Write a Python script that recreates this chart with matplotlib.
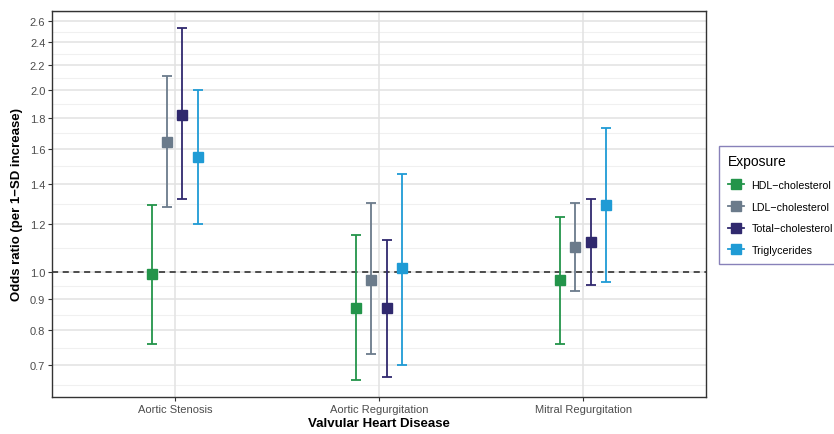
import matplotlib
matplotlib.use('Agg')
import numpy as np
import matplotlib.pyplot as plt
from matplotlib.lines import Line2D
from matplotlib.ticker import FixedLocator, NullFormatter

plt.rcParams['font.family'] = ['Liberation Sans', 'DejaVu Sans']

# DATA

diseases  = ['Aortic Stenosis', 'Aortic Regurgitation', 'Mitral Regurgitation']
exposures = ['HDL\u2212cholesterol', 'LDL\u2212cholesterol', 'Total\u2212cholesterol', 'Triglycerides']
colors    = ['#23944a', '#6b7b8b', '#30296e', '#1f9bd5']

or_hdl   = [0.991, 0.871, 0.970]
lo_hdl   = [0.760, 0.661, 0.760]
hi_hdl   = [1.290, 1.150, 1.231]

or_ldl   = [1.642, 0.969, 1.100]
lo_ldl   = [1.280, 0.730, 0.930]
hi_ldl   = [2.110, 1.300, 1.300]

or_tc    = [1.820, 0.871, 1.121]
lo_tc    = [1.320, 0.669, 0.952]
hi_tc    = [2.531, 1.130, 1.320]

or_tg    = [1.549, 1.013, 1.291]
lo_tg    = [1.200, 0.700, 0.960]
hi_tg    = [2.000, 1.452, 1.730]

y_ticks  = [0.7, 0.8, 0.9, 1.0, 1.2, 1.4, 1.6, 1.8, 2.0, 2.2, 2.4, 2.6]

series = [
    (or_hdl, lo_hdl, hi_hdl),
    (or_ldl, lo_ldl, hi_ldl),
    (or_tc,  lo_tc,  hi_tc),
    (or_tg,  lo_tg,  hi_tg),
]

# FIGURE

fig = plt.figure(figsize=(8.34, 4.35), dpi=100)
ax = fig.add_axes([0.0627, 0.085, 0.7833, 0.888])

x = np.arange(1, len(diseases) + 1)
offsets = [-0.1125, -0.0375, 0.0375, 0.1125]

ax.set_yscale('log')
ax.set_ylim(0.62, 2.707)
ax.set_xlim(0.4, 3.6)

# grid
ext = [0.6] + y_ticks + [2.8]
minors = [np.sqrt(a * b) for a, b in zip(ext[:-1], ext[1:])]
for m in minors:
    ax.axhline(m, color='#f0f0f0', lw=0.8, zorder=0)
for t in y_ticks:
    ax.axhline(t, color='#e2e2e2', lw=1.1, zorder=0)
for xi in x:
    ax.axvline(xi, color='#e2e2e2', lw=1.1, zorder=0)

ax.axhline(1.0, color='#222222', lw=1.1, ls=(0, (4, 3)), zorder=1)

handles = []
for (ors, los, his), off, col, name in zip(series, offsets, colors, exposures):
    ors = np.array(ors); los = np.array(los); his = np.array(his)
    ax.errorbar(x + off, ors, yerr=[ors - los, his - ors], fmt='s', color=col,
                ecolor=col, elinewidth=1.3, capsize=3.5, capthick=1.3,
                markersize=7.5, zorder=3)
    handles.append(Line2D([], [], color=col, lw=1.3, marker='s', markersize=6.5, label=name))

ax.yaxis.set_major_locator(FixedLocator(y_ticks))
ax.yaxis.set_minor_locator(FixedLocator([]))
ax.yaxis.set_minor_formatter(NullFormatter())
ax.set_yticklabels([f'{t:.1f}' for t in y_ticks])
ax.set_xticks(x)
ax.set_xticklabels(diseases)
ax.tick_params(axis='both', labelsize=8, colors='#333333', length=3, width=0.8,
               labelcolor='#4d4d4d', pad=2)

for s in ax.spines.values():
    s.set_color('#333333')
    s.set_linewidth(1.0)

ax.set_xlabel('Valvular Heart Disease', fontsize=9.5, fontweight='bold', labelpad=2)
ax.set_ylabel('Odds ratio (per 1\u2212SD increase)', fontsize=9.5, fontweight='bold', labelpad=5)

leg = ax.legend(handles=handles, title='Exposure', loc='upper left',
                bbox_to_anchor=(719 / 834, 1 - 146.5 / 435), bbox_transform=fig.transFigure,
                borderaxespad=0, fontsize=7.7, title_fontsize=10,
                frameon=True, fancybox=False, handlelength=1.5, handletextpad=0.75,
                borderpad=0.8, labelspacing=1.1, alignment='left')
leg.get_frame().set_edgecolor('#6a62a8')
leg.get_frame().set_linewidth(1.0)

fig.savefig('out.png', dpi=100)
